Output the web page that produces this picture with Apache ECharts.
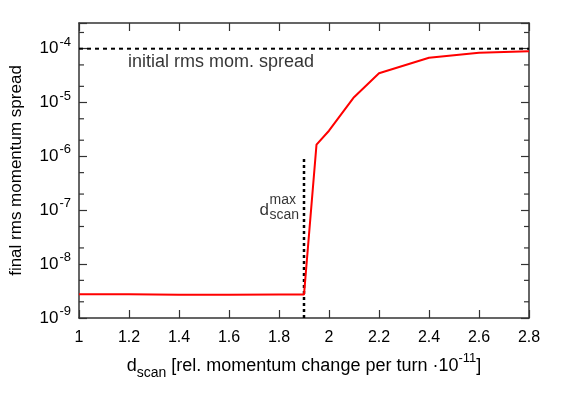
<!DOCTYPE html>
<html>
<head>
<meta charset="utf-8">
<script src="https://cdn.jsdelivr.net/npm/echarts@6/dist/echarts.min.js"></script>
<style>
  html, body { margin: 0; padding: 0; background: #fff; }
  #chart { width: 562px; height: 395px; }
</style>
</head>
<body>
<div id="chart"></div>
<script>
// d_scan [rel. momentum change per turn, x 1e-11]
const dScan = [1.0, 1.2, 1.4, 1.6, 1.8, 1.9, 1.95, 2.0, 2.1, 2.2, 2.4, 2.6, 2.8];
// final rms momentum spread
const finalSpread = [2.75e-9, 2.75e-9, 2.7e-9, 2.7e-9, 2.72e-9, 2.72e-9, 1.65e-6, 3.0e-6, 1.26e-5, 3.5e-5, 6.8e-5, 8.4e-5, 9.0e-5];
// initial rms momentum spread (reference level)
const initialSpread = 1e-4;
// d_scan^max marker
const dScanMax = 1.9;
const dScanMaxSpan = [1e-9, 1e-6];
// log minor ticks (2 and 5 in each decade)
const minorTicks = [2e-9, 5e-9, 2e-8, 5e-8, 2e-7, 5e-7, 2e-6, 5e-6, 2e-5, 5e-5, 2e-4];

const xMin = 1, xMax = 2.8, yMin = 1e-9, yMax = 3e-4;
const font = 'Liberation Sans, Arial, sans-serif';
const frame = '#333';

const mychart = echarts.init(document.getElementById('chart'), null, { renderer: 'canvas' });

function powLabel(v) {
  const e = Math.log10(v);
  const r = Math.round(e);
  if (Math.abs(e - r) > 1e-6) return '';
  return '{b|10}{s|' + r + '}';
}

const option = {
  animation: false,
  backgroundColor: '#fff',
  grid: { left: 79, right: 33, top: 23, bottom: 77 },
  xAxis: [
    {
      type: 'value', min: xMin, max: xMax, interval: 0.2,
      position: 'bottom',
      axisLine: { lineStyle: { color: frame, width: 1.5 } },
      axisTick: { inside: true, length: 8, lineStyle: { color: frame, width: 1.2 } },
      splitLine: { show: false },
      axisLabel: { color: '#000', fontFamily: font, fontSize: 16, margin: 12,
        formatter: v => String(Math.round(v * 10) / 10) },
      name: 'd{sub|scan} [rel. momentum change per turn ·10{sup|-11}]',
      nameLocation: 'middle', nameGap: 34,
      nameTextStyle: {
        color: '#000', fontFamily: font, fontSize: 18, lineHeight: 28,
        rich: {
          sub: { fontFamily: font, fontSize: 14, color: '#000', verticalAlign: 'bottom', lineHeight: 14 },
          sup: { fontFamily: font, fontSize: 13, color: '#000', verticalAlign: 'top', lineHeight: 13 }
        }
      }
    },
    {
      type: 'value', min: xMin, max: xMax, interval: 0.2,
      position: 'top',
      axisLine: { lineStyle: { color: frame, width: 1.5 } },
      axisTick: { inside: true, length: 8, lineStyle: { color: frame, width: 1.2 } },
      axisLabel: { show: false },
      splitLine: { show: false }
    }
  ],
  yAxis: [
    {
      type: 'log', logBase: 10, min: yMin, max: yMax,
      position: 'left',
      axisLine: { show: true, lineStyle: { color: frame, width: 1.5 } },
      axisTick: { inside: true, length: 8, lineStyle: { color: frame, width: 1.2 } },
      splitLine: { show: false },
      axisLabel: {
        color: '#000', fontFamily: font, margin: 8,
        formatter: powLabel,
        rich: {
          b: { fontFamily: font, fontSize: 17, color: '#000', lineHeight: 26, verticalAlign: 'middle' },
          s: { fontFamily: font, fontSize: 13, color: '#000', lineHeight: 13, verticalAlign: 'top', padding: [0, 0, 0, 1] }
        }
      },
      name: 'final rms momentum spread',
      nameLocation: 'middle', nameGap: 54, nameRotate: 90,
      nameTextStyle: { color: '#000', fontFamily: font, fontSize: 17 }
    },
    {
      type: 'log', logBase: 10, min: yMin, max: yMax,
      position: 'right',
      axisLine: { show: true, lineStyle: { color: frame, width: 1.5 } },
      axisTick: { inside: true, length: 8, lineStyle: { color: frame, width: 1.2 } },
      axisLabel: { show: false },
      splitLine: { show: false }
    }
  ],
  series: [
    {
      // minor log ticks on left and right frame
      type: 'custom',
      silent: true,
      clip: false,
      data: minorTicks.map(v => [xMin, v]),
      renderItem: function (params, api) {
        const l = api.coord([xMin, api.value(1)]);
        const r = api.coord([xMax, api.value(1)]);
        const st = { stroke: frame, lineWidth: 1.2 };
        return {
          type: 'group',
          children: [
            { type: 'line', shape: { x1: l[0], y1: l[1], x2: l[0] + 5, y2: l[1] }, style: st },
            { type: 'line', shape: { x1: r[0], y1: r[1], x2: r[0] - 5, y2: r[1] }, style: st }
          ]
        };
      }
    },
    {
      name: 'initial',
      type: 'line',
      silent: true,
      symbol: 'none',
      data: [[xMin, initialSpread], [xMax, initialSpread]],
      lineStyle: { color: '#000', width: 2, type: [4, 4] }
    },
    {
      name: 'dscanmax',
      type: 'line',
      silent: true,
      symbol: 'none',
      data: dScanMaxSpan.map(v => [dScanMax, v]),
      lineStyle: { color: '#000', width: 2.5, type: [3, 3] }
    },
    {
      name: 'final',
      type: 'line',
      symbol: 'none',
      data: dScan.map((x, i) => [x, finalSpread[i]]),
      lineStyle: { color: '#ff0000', width: 2 }
    },
    {
      // text annotations
      type: 'scatter',
      silent: true,
      symbolSize: 0,
      data: [
        { value: [1.196, initialSpread], label: { formatter: 'initial rms mom. spread', align: 'left', offset: [0, 13], fontSize: 18 } },
        { value: [dScanMax, 1e-7], label: { formatter: 'd', align: 'right', offset: [-35, 0], fontSize: 17 } },
        { value: [dScanMax, 1e-7], label: { formatter: 'max\nscan', align: 'left', offset: [-34.5, -2.5], fontSize: 14, lineHeight: 15 } }
      ],
      label: {
        show: true, position: [0, 0], verticalAlign: 'middle',
        color: '#000', fontFamily: font
      }
    }
  ]
};

mychart.setOption(option, true);
</script>
</body>
</html>
